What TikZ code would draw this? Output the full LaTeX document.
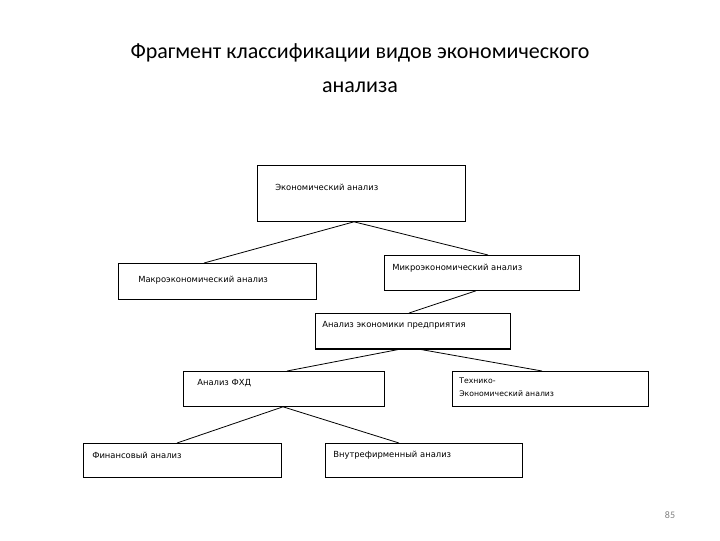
\documentclass[tikz,border=0pt]{standalone}
\usepackage{fontspec}
\setmainfont{Carlito}
\newfontfamily\boxfont{DejaVu Sans}
\usetikzlibrary{calc}
\begin{document}
\begin{tikzpicture}[x=0.75pt,y=-0.75pt,
  box/.style={draw,line width=0.6pt,rectangle,anchor=north west,inner sep=0pt},
  lbl/.style={anchor=west,font=\boxfont\fontsize{6.3}{7.5}\selectfont,inner sep=0pt,align=left},
  conn/.style={line width=0.6pt}]
\useasboundingbox (0,0) rectangle (720,540);
\node[font=\fontsize{16.5}{25}\selectfont,align=center] (title) at (360,68) {Фрагмент классификации видов экономического\\анализа};
\node[box,minimum width=208*0.75pt,minimum height=56*0.75pt] (ek) at (257,165) {};
\node[lbl] (ekt) at (275,187) {Экономический анализ};
\node[box,minimum width=198*0.75pt,minimum height=36*0.75pt] (mak) at (118,263) {};
\node[lbl] (makt) at (138,280) {Макроэкономический анализ};
\node[box,minimum width=195*0.75pt,minimum height=35*0.75pt] (mik) at (384,255) {};
\node[lbl] (mikt) at (392,268) {Микроэкономический анализ};
\node[box,minimum width=195*0.75pt,minimum height=35*0.75pt] (ape) at (315,313) {};
\draw[line width=1.3pt] (ape.south west) -- (ape.south east);
\node[lbl] (apet) at (322,325) {Анализ экономики предприятия};
\node[box,minimum width=201*0.75pt,minimum height=35*0.75pt] (fhd) at (183,371) {};
\node[lbl] (fhdt) at (197,383) {Анализ ФХД};
\node[box,minimum width=196*0.75pt,minimum height=35*0.75pt] (tech) at (452,371) {};
\node[lbl,font=\boxfont\fontsize{5.8}{9.5}\selectfont] (techt) at (459,387) {Технико-\\Экономический анализ};
\node[box,minimum width=198*0.75pt,minimum height=34*0.75pt] (fin) at (83,443) {};
\node[lbl] (fint) at (92,455) {Финансовый анализ};
\node[box,minimum width=197*0.75pt,minimum height=34*0.75pt] (vn) at (325,443) {};
\node[lbl] (vnt) at (333,455) {Внутрефирменный анализ};
\node[font=\fontsize{7.5}{9}\selectfont,text=gray] (pg) at (670,515) {85};
\draw[conn] ($(ek.south west)+(97,0)$) coordinate (e0) -- ($(mak.north west)+(86,0)$);
\draw[conn] (e0) -- ($(mik.north west)+(104,0)$);
\draw[conn] ($(mik.south west)+(92,0)$) -- ($(ape.north west)+(94,0)$);
\draw[conn] ($(ape.south west)+(87,0)$) -- ($(fhd.north west)+(104,0)$);
\draw[conn] ($(ape.south west)+(102,0)$) -- ($(tech.north west)+(90,0)$);
\draw[conn] ($(fhd.south west)+(100,0)$) coordinate (f0) -- ($(fin.north west)+(94,0)$);
\draw[conn] (f0) -- ($(vn.north west)+(74,0)$);
\end{tikzpicture}
\end{document}
